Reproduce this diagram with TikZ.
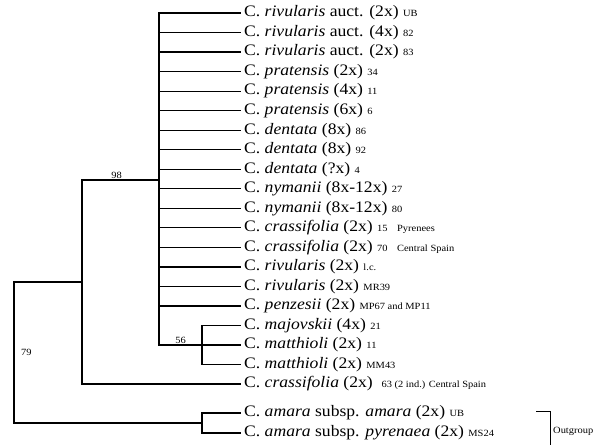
\documentclass[tikz,border=0pt]{standalone}
\usepackage{fontspec}
\setmainfont{Liberation Serif}[FakeStretch=1.1]
\tikzset{
    taxon/.style={anchor=west, inner xsep=4pt, inner ysep=1pt, font=\fontsize{16}{18}\selectfont},
    clade/.style={line width=1.2pt, line cap=rect},
    support/.style={inner sep=1pt, font=\fontsize{9.5}{10}\selectfont},
    groupbar/.style={line width=0.8pt} }
\usetikzlibrary{calc, positioning}
\newcommand{\spc}[1]{\textit{#1}}
\newcommand{\acc}[1]{{\fontsize{9.5}{10}\selectfont #1}}

\begin{document}
\begin{tikzpicture}[x=1pt, y=1pt]
    \useasboundingbox (0,0) rectangle (593,-445);
    % ---- internal nodes
    \coordinate (root) at (14,-352);
    \coordinate (ingroup) at (82,-282);
    \coordinate (c98) at (159,-180);
    \coordinate (c56) at (202,-345);
    \coordinate (outg) at (202,-423);
    % ---- taxa
    \node[taxon] (t1) at (240,-13) {C. \spc{rivularis} auct. (2x) \acc{UB}};
    \node[taxon] (t2) at (240,-32.5) {C. \spc{rivularis} auct. (4x) \acc{82}};
    \node[taxon] (t3) at (240,-52) {C. \spc{rivularis} auct. (2x) \acc{83}};
    \node[taxon] (t4) at (240,-71.6) {C. \spc{pratensis} (2x) \acc{34}};
    \node[taxon] (t5) at (240,-91.1) {C. \spc{pratensis} (4x) \acc{11}};
    \node[taxon] (t6) at (240,-110.7) {C. \spc{pratensis} (6x) \acc{6}};
    \node[taxon] (t7) at (240,-130.2) {C. \spc{dentata} (8x) \acc{86}};
    \node[taxon] (t8) at (240,-149.7) {C. \spc{dentata} (8x) \acc{92}};
    \node[taxon] (t9) at (240,-169.2) {C. \spc{dentata} (?x) \acc{4}};
    \node[taxon] (t10) at (240,-188.8) {C. \spc{nymanii} (8x-12x) \acc{27}};
    \node[taxon] (t11) at (240,-208.3) {C. \spc{nymanii} (8x-12x) \acc{80}};
    \node[taxon] (t12) at (240,-227.8) {C. \spc{crassifolia} (2x) \acc{15\quad Pyrenees}};
    \node[taxon] (t13) at (240,-247.4) {C. \spc{crassifolia} (2x) \acc{70\quad Central Spain}};
    \node[taxon] (t14) at (240,-266.9) {C. \spc{rivularis} (2x) \acc{l.c.}};
    \node[taxon] (t15) at (240,-286.4) {C. \spc{rivularis} (2x) \acc{MR39}};
    \node[taxon] (t16) at (240,-306) {C. \spc{penzesii} (2x) \acc{MP67 and MP11}};
    \node[taxon] (t17) at (240,-325.5) {C. \spc{majovskii} (4x) \acc{21}};
    \node[taxon] (t18) at (240,-345) {C. \spc{matthioli} (2x) \acc{11}};
    \node[taxon] (t19) at (240,-364.5) {C. \spc{matthioli} (2x) \acc{MM43}};
    \node[taxon] (t20) at (240,-384) {C. \spc{crassifolia} (2x) \ \acc{63 (2 ind.) Central Spain}};
    \node[taxon] (t21) at (240,-413) {C. \spc{amara} subsp. \spc{amara} (2x) \acc{UB}};
    \node[taxon] (t22) at (240,-433) {C. \spc{amara} subsp. \spc{pyrenaea} (2x) \acc{MS24}};
    % ---- support values
    \node[support, anchor=south] (s98) at ($(ingroup|-c98)!0.45!(c98)$) {98};
    \node[support, anchor=south] (s56) at ($(c98|-c56)!0.5!(c56)$) {56};
    \node[support, right=6pt of root] (s79) {79};
    % ---- outgroup bracket
    \coordinate (og1) at (536,-411);
    \coordinate (og2) at (550,-411);
    \coordinate (og3) at (550,-445);
    \node[support, anchor=west] (og) at (552,-431) {Outgroup};
    % ----
    \draw[clade] (root) |- (ingroup);
    \draw[clade] (root) |- (outg);

    \draw[clade] (ingroup) |- (c98);
    \draw[clade] (ingroup) |- (t20.west);

    \draw[clade] (c98) |- (t1.west);
    \draw[clade] (c98) |- (t2.west);
    \draw[clade] (c98) |- (t3.west);
    \draw[clade] (c98) |- (t4.west);
    \draw[clade] (c98) |- (t5.west);
    \draw[clade] (c98) |- (t6.west);
    \draw[clade] (c98) |- (t7.west);
    \draw[clade] (c98) |- (t8.west);
    \draw[clade] (c98) |- (t9.west);
    \draw[clade] (c98) |- (t10.west);
    \draw[clade] (c98) |- (t11.west);
    \draw[clade] (c98) |- (t12.west);
    \draw[clade] (c98) |- (t13.west);
    \draw[clade] (c98) |- (t14.west);
    \draw[clade] (c98) |- (t15.west);
    \draw[clade] (c98) |- (t16.west);
    \draw[clade] (c98) |- (c56);

    \draw[clade] (c56) |- (t17.west);
    \draw[clade] (c56) |- (t18.west);
    \draw[clade] (c56) |- (t19.west);

    \draw[clade] (outg) |- (t21.west);
    \draw[clade] (outg) |- (t22.west);

    \draw[groupbar] (og1) -- (og2) -- (og3);
\end{tikzpicture}
\end{document}
